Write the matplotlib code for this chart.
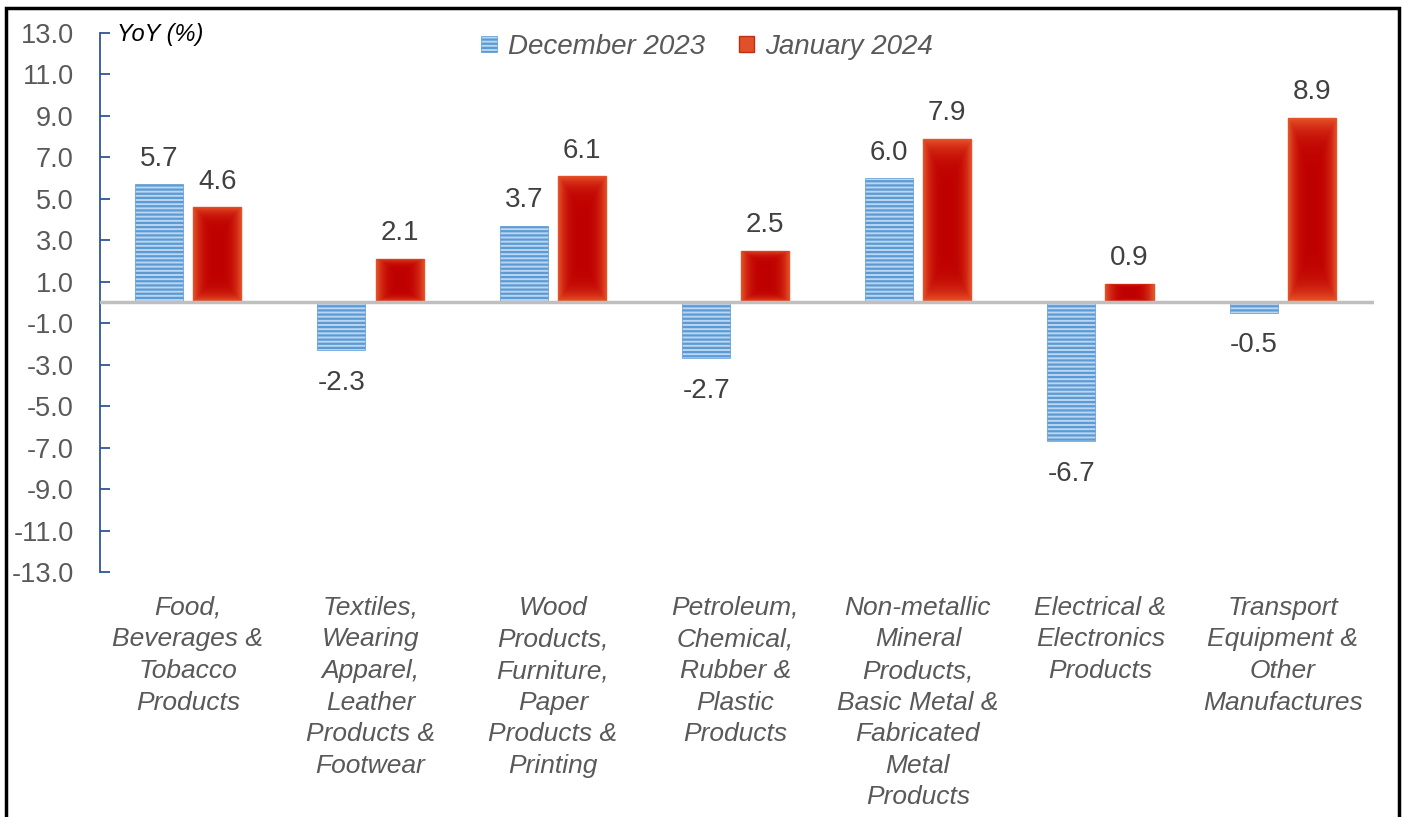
import matplotlib
matplotlib.use("Agg")
import matplotlib.pyplot as plt
import numpy as np
from matplotlib.patches import Rectangle, Patch

plt.rcParams['font.family'] = ['Liberation Sans', 'DejaVu Sans']
plt.rcParams['hatch.linewidth'] = 1.6

categories = [
    "Food,\nBeverages &\nTobacco\nProducts",
    "Textiles,\nWearing\nApparel,\nLeather\nProducts &\nFootwear",
    "Wood\nProducts,\nFurniture,\nPaper\nProducts &\nPrinting",
    "Petroleum,\nChemical,\nRubber &\nPlastic\nProducts",
    "Non-metallic\nMineral\nProducts,\nBasic Metal &\nFabricated\nMetal\nProducts",
    "Electrical &\nElectronics\nProducts",
    "Transport\nEquipment &\nOther\nManufactures",
]
dec2023 = [5.7, -2.3, 3.7, -2.7, 6.0, -6.7, -0.5]
jan2024 = [4.6, 2.1, 6.1, 2.5, 7.9, 0.9, 8.9]
series_names = ["December 2023", "January 2024"]
yticks = np.arange(-13, 14, 2)

fig = plt.figure(figsize=(14.05, 8.17), dpi=100)
ax = fig.add_axes([0.0712, 0.2999, 0.9068, 0.6597])

x = np.arange(len(categories))
w = 0.264
off = 0.16
blue_face = '#bcd5f0'
blue_edge = '#5b9bd5'

b1 = ax.bar(x - off, dec2023, w, facecolor=blue_face, edgecolor=blue_edge,
            hatch='----', linewidth=0.5, zorder=2)
b2 = ax.bar(x + off, jan2024, w, facecolor='#c00000', edgecolor='#e0502a',
            linewidth=1.0, zorder=2)

# soft gradient for red bars (dark centre, orange rim)
gx = np.linspace(-1, 1, 60)
gy = np.linspace(-1, 1, 60)
GX, GY = np.meshgrid(gx, gy)
dist = np.clip(np.maximum(np.abs(GX) ** 3, np.abs(GY) ** 6), 0, 1)
c_in = np.array([0.75, 0.0, 0.0])
c_out = np.array([0.90, 0.33, 0.16])
img = c_in[None, None, :] * (1 - dist[..., None]) + c_out[None, None, :] * dist[..., None]
for rect in b2:
    x0, y0 = rect.get_x(), rect.get_y()
    ww, hh = rect.get_width(), rect.get_height()
    im = ax.imshow(img, extent=(x0, x0 + ww, y0, y0 + hh), aspect='auto',
                   interpolation='bilinear', zorder=2.1)
    im.set_clip_path(rect)

lab_col = '#404040'
for bars, vals in ((b1, dec2023), (b2, jan2024)):
    for rect, v in zip(bars, vals):
        cx = rect.get_x() + rect.get_width() / 2
        if v >= 0:
            ax.annotate(f"{v:.1f}", (cx, v), xytext=(0, 9), textcoords='offset points',
                        ha='center', va='bottom', fontsize=20, color=lab_col)
        else:
            ax.annotate(f"{v:.1f}", (cx, v), xytext=(0, -14), textcoords='offset points',
                        ha='center', va='top', fontsize=20, color=lab_col)

ax.axhline(0, color='#bfbfbf', linewidth=2.5, zorder=3)

ax.set_xlim(-0.482, len(categories) - 0.5)
ax.set_ylim(-13, 13)
ax.set_yticks(yticks)
ax.set_yticklabels([f"{t:.1f}" for t in yticks], fontsize=19.5, color='#595959')
ax.tick_params(axis='y', direction='in', length=7, width=1.3, color='#2f5597', pad=19)
ax.set_xticks([])
for s in ('top', 'right', 'bottom'):
    ax.spines[s].set_visible(False)
ax.spines['left'].set_color('#2f5597')
ax.spines['left'].set_linewidth(1.3)

for xi, c in zip(x, categories):
    ax.text(xi, -14.15, c, ha='center', va='top', fontsize=19, style='italic',
            color='#595959', linespacing=1.4)

ax.text(0.0135, 0.998, "YoY (%)", transform=ax.transAxes, fontsize=17, style='italic',
        color='#000000', ha='left', va='center')

handles = [Patch(facecolor=blue_face, edgecolor=blue_edge, hatch='----', linewidth=0.5),
           Patch(facecolor='#e0502a', edgecolor='#c03010')]
leg = ax.legend(handles, series_names, loc='upper center', bbox_to_anchor=(0.4765, 1.045),
                ncol=2, frameon=False, prop={'size': 20, 'style': 'italic'},
                handlelength=0.55, handleheight=0.55, handletextpad=0.4, columnspacing=1.22)
for t in leg.get_texts():
    t.set_color('#595959')

fig.patches.append(Rectangle((0.004, -0.01), 0.992, 1.0, transform=fig.transFigure,
                             fill=False, edgecolor='black', linewidth=2.5))

fig.savefig('out.png', dpi=100)
